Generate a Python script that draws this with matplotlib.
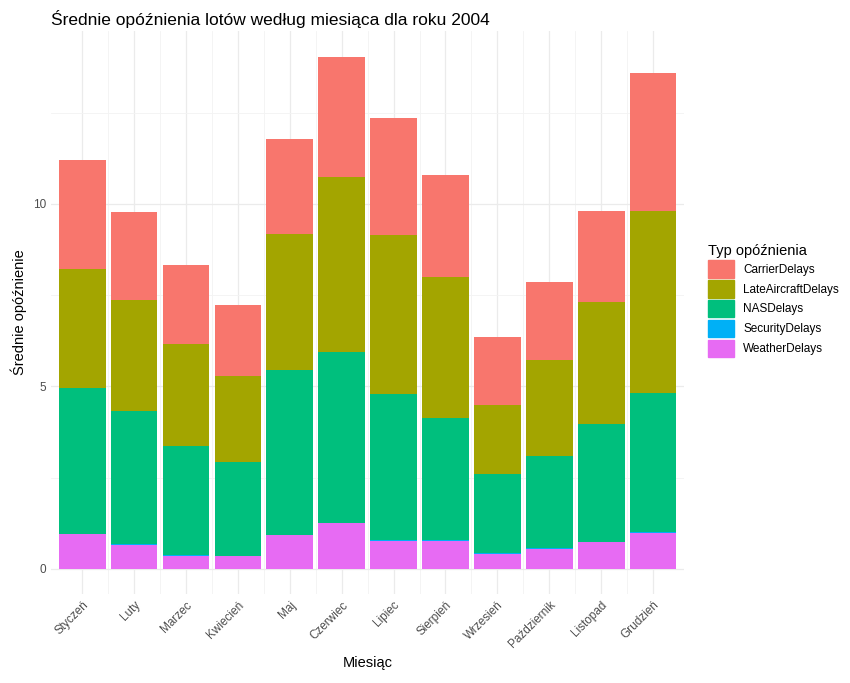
import matplotlib
matplotlib.use("Agg")
import matplotlib.pyplot as plt
from matplotlib.patches import Patch
import numpy as np

plt.rcParams["font.family"] = ["Liberation Sans", "DejaVu Sans"]

months = ["Styczeń", "Luty", "Marzec", "Kwiecień", "Maj", "Czerwiec", "Lipiec",
          "Sierpień", "Wrzesień", "Październik", "Listopad", "Grudzień"]
weather = [0.94, 0.66, 0.35, 0.34, 0.91, 1.24, 0.77, 0.77, 0.41, 0.54, 0.72, 0.99]
security = [0.02, 0.02, 0.03, 0.02, 0.02, 0.02, 0.02, 0.02, 0.03, 0.03, 0.02, 0.02]
nas = [3.99, 3.64, 2.98, 2.56, 4.51, 4.67, 3.99, 3.34, 2.16, 2.52, 3.22, 3.80]
late = [3.27, 3.06, 2.79, 2.35, 3.74, 4.81, 4.37, 3.87, 1.90, 2.62, 3.34, 5.00]
carrier = [2.98, 2.40, 2.18, 1.97, 2.60, 3.30, 3.20, 2.79, 1.84, 2.16, 2.51, 3.79]

series = [("WeatherDelays", weather, "#E76BF3"),
          ("SecurityDelays", security, "#00B0F6"),
          ("NASDelays", nas, "#00BF7D"),
          ("LateAircraftDelays", late, "#A3A500"),
          ("CarrierDelays", carrier, "#F8766D")]

fig = plt.figure(figsize=(8.5, 6.83), dpi=100)
ax = fig.add_axes([0.06, 0.13, 0.745, 0.825])
x = np.arange(1, len(months) + 1)
bottom = np.zeros(len(months))
for name, vals, col in series:
    ax.bar(x, vals, 0.9, bottom=bottom, color=col, zorder=2)
    bottom += np.array(vals)

ax.set_xlim(0.4, 12.6)
ax.set_ylim(-0.7, 14.75)
ax.set_yticks([0, 5, 10])
ax.set_yticks([2.5, 7.5, 12.5], minor=True)
ax.set_xticks(x)
ax.set_xticks(x[:-1] + 0.5, minor=True)
ax.set_xticklabels(months, rotation=45, ha="right", rotation_mode="anchor", fontsize=8.5, color="#4D4D4D")
ax.tick_params(axis="y", labelsize=8.5, labelcolor="#4D4D4D")
ax.tick_params(which="both", length=0)
ax.grid(True, which="major", color="#EBEBEB", lw=0.9, zorder=0)
ax.grid(True, which="minor", color="#F3F3F3", lw=0.6, zorder=0)
for s in ax.spines.values():
    s.set_visible(False)
ax.set_xlabel("Miesiąc", fontsize=10.5)
ax.set_ylabel("Średnie opóźnienie", fontsize=10.5)
fig.text(0.06, 0.985, "Średnie opóźnienia lotów według miesiąca dla roku 2004", fontsize=12.5, va="top")

handles = [Patch(color=c, label=n) for n, _, c in reversed(series)]
leg = fig.legend(handles=handles, title="Typ opóźnienia", loc="center left",
                 bbox_to_anchor=(0.82, 0.56), frameon=False, fontsize=8.5,
                 title_fontsize=10.5, handlelength=2.2, handleheight=1.9, labelspacing=0.2)
leg._legend_box.align = "left"
fig.savefig("out.png", dpi=100)
